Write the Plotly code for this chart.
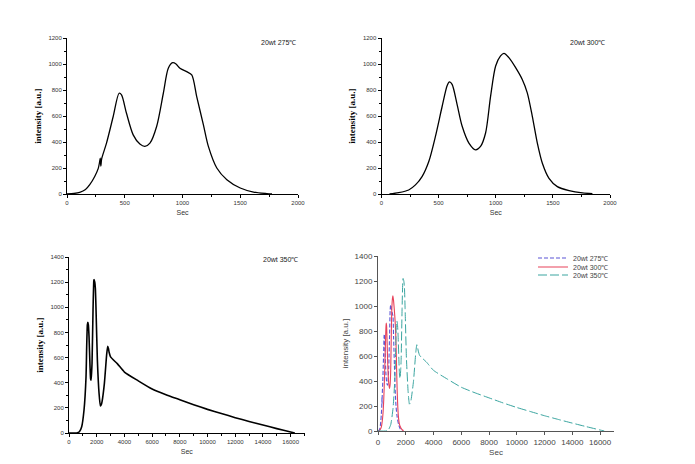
import plotly.graph_objects as go

# ---- data ----
t275 = [0, 60, 110, 160, 197, 240, 270, 282, 288, 293, 300, 342, 400, 451, 472, 515, 573, 631, 674, 718,
        776, 834, 877, 915, 944, 978, 1036, 1080, 1123, 1181, 1224, 1297, 1384, 1500, 1615, 1731, 1775]
i275 = [0, 4, 13, 35, 72, 135, 195, 245, 275, 215, 270, 391, 596, 775, 762, 621, 455, 384, 366, 391,
        519, 775, 967, 1010, 1000, 967, 941, 916, 749, 532, 366, 200, 110, 46, 15, 3, 0]

t300 = [70, 150, 238, 297, 355, 414, 472, 531, 575, 595, 618, 662, 706, 765, 823, 867, 911, 955, 999,
        1042, 1072, 1115, 1174, 1232, 1276, 1320, 1364, 1408, 1466, 1539, 1642, 1759, 1846]
i300 = [0, 10, 31, 70, 134, 250, 443, 675, 835, 863, 843, 688, 521, 392, 340, 366, 469, 753, 985,
        1062, 1082, 1049, 972, 881, 778, 598, 392, 237, 121, 57, 26, 8, 3]

t350 = [0, 554, 750, 916, 1084, 1229, 1277, 1325, 1360, 1398, 1446, 1518, 1560, 1590, 1630, 1663, 1735,
        1790, 1807, 1860, 1904, 1952, 2048, 2169, 2265, 2330, 2386, 2554, 2723, 2795, 2850, 2900, 3000,
        3500, 4000, 5000, 6000, 7000, 8000, 9000, 10000, 11000, 12000, 13000, 14000, 15000, 16000, 16300]
i350 = [0, 0, 10, 50, 183, 448, 687, 860, 880, 860, 767, 528, 430, 420, 480, 557, 979,
        1210, 1220, 1200, 1150, 979, 581, 316, 215, 225, 250, 395, 630, 690, 670, 640, 605,
        550, 485, 415, 350, 305, 265, 225, 188, 155, 122, 92, 63, 35, 8, 0]

labels = ["20wt 275\u2103", "20wt 300\u2103", "20wt 350\u2103"]

W, H = 695, 464
def dx(a, b):
    return [a / W, b / W]
def dy(top, bot):
    return [1 - bot / H, 1 - top / H]

fig = go.Figure()

# single plots
fig.add_trace(go.Scatter(x=t275, y=i275, mode="lines",
                         line=dict(color="black", width=1.3, shape="spline", smoothing=0.8),
                         xaxis="x", yaxis="y", showlegend=False))
fig.add_trace(go.Scatter(x=t300, y=i300, mode="lines",
                         line=dict(color="black", width=1.3, shape="spline", smoothing=0.8),
                         xaxis="x2", yaxis="y2", showlegend=False))
fig.add_trace(go.Scatter(x=t350, y=i350, mode="lines",
                         line=dict(color="black", width=1.6, shape="spline", smoothing=0.5),
                         xaxis="x3", yaxis="y3", showlegend=False))
# combined plot
fig.add_trace(go.Scatter(x=t275, y=i275, mode="lines", name=labels[0], legend="legend",
                         line=dict(color="#5a55d6", width=1.1, dash="4px,2px", shape="spline", smoothing=0.8),
                         xaxis="x4", yaxis="y4"))
fig.add_trace(go.Scatter(x=t300, y=i300, mode="lines", name=labels[1], legend="legend2",
                         line=dict(color="#e8425a", width=1.1, shape="spline", smoothing=0.8),
                         xaxis="x4", yaxis="y4"))
fig.add_trace(go.Scatter(x=t350, y=i350, mode="lines", name=labels[2], legend="legend3",
                         line=dict(color="#3aa5a0", width=1.0, dash="9px,3px", shape="spline", smoothing=0.5),
                         xaxis="x4", yaxis="y4"))

tickfont_small = dict(family="Liberation Sans, Arial", size=6, color="#333")
serif_title = dict(family="Liberation Serif, Times New Roman", size=9, color="black", weight="bold")

def small_x(domain, rng, dtick, minor, anchor):
    return dict(domain=domain, range=rng, dtick=dtick, anchor=anchor, showgrid=False, zeroline=False,
                automargin=False, tickformat="d",
                showline=True, linecolor="black", linewidth=1, ticks="outside", ticklen=3,
                tickcolor="black", tickfont=tickfont_small,
                minor=dict(dtick=minor, ticks="outside", ticklen=2, tickcolor="black"),
                title=dict(text="Sec", font=dict(family="Liberation Sans, Arial", size=7, color="#333"),
                           standoff=4))

def small_y(domain, rng, dtick, minor, anchor):
    return dict(domain=domain, range=rng, dtick=dtick, anchor=anchor, showgrid=False, zeroline=False,
                automargin=False, tickformat="d",
                showline=True, linecolor="black", linewidth=1, ticks="outside", ticklen=3,
                tickcolor="black", tickfont=tickfont_small,
                minor=dict(dtick=minor, ticks="outside", ticklen=2, tickcolor="black"),
                title=dict(text="intensity [a.u.]", font=serif_title, standoff=5))

leg_font = dict(family="Liberation Sans, Arial", size=7, color="#444")
def leg(ypix):
    return dict(x=533 / W, y=1 - ypix / H, xanchor="left", yanchor="middle", bgcolor="rgba(0,0,0,0)",
                font=leg_font, tracegroupgap=0, borderwidth=0)

fig.update_layout(
    width=W, height=H, margin=dict(l=0, r=0, t=0, b=0),
    paper_bgcolor="white", plot_bgcolor="white",
    xaxis=small_x(dx(67, 298), [0, 2000], 500, 250, "y"),
    yaxis=small_y(dy(38, 194), [0, 1200], 200, 100, "x"),
    xaxis2=small_x(dx(381.5, 610), [0, 2000], 500, 250, "y2"),
    yaxis2=small_y(dy(38, 194), [0, 1200], 200, 100, "x2"),
    xaxis3=small_x(dx(69, 304.5), [0, 17000], 2000, 1000, "y3"),
    yaxis3=small_y(dy(257, 433), [0, 1400], 200, 100, "x3"),
    xaxis4=dict(domain=dx(378, 614), range=[0, 17000], dtick=2000, anchor="y4", showgrid=False,
                zeroline=False, showline=True, linecolor="#555", linewidth=1, ticks="outside",
                automargin=False, tickformat="d",
                ticklen=3, tickcolor="#555",
                tickfont=dict(family="Liberation Sans, Arial", size=8, color="#444"),
                title=dict(text="Sec", font=dict(family="Liberation Sans, Arial", size=8, color="#444"),
                           standoff=3)),
    yaxis4=dict(domain=dy(256, 431), range=[0, 1400], dtick=200, anchor="x4", showgrid=False,
                zeroline=False, showline=True, linecolor="#555", linewidth=1, ticks="outside",
                automargin=False, tickformat="d",
                ticklen=3, tickcolor="#555",
                tickfont=dict(family="Liberation Sans, Arial", size=8, color="#444"),
                title=dict(text="intensity [a.u.]",
                           font=dict(family="Liberation Sans, Arial", size=8, color="#444"), standoff=4)),
    legend=leg(258), legend2=leg(267), legend3=leg(275),
    showlegend=True,
)

ann_font = dict(family="Liberation Sans, Arial", size=7, color="#222")
for txt, xr, yt in [(labels[0], 298, 42), (labels[1], 607, 42), (labels[2], 300, 259)]:
    fig.add_annotation(text=txt, x=xr / W, y=1 - yt / H, xref="paper", yref="paper",
                       xanchor="right", yanchor="middle", showarrow=False, font=ann_font)

fig.write_html("out.html", config={"displayModeBar": False},
               post_script="document.body.style.margin='0';")
